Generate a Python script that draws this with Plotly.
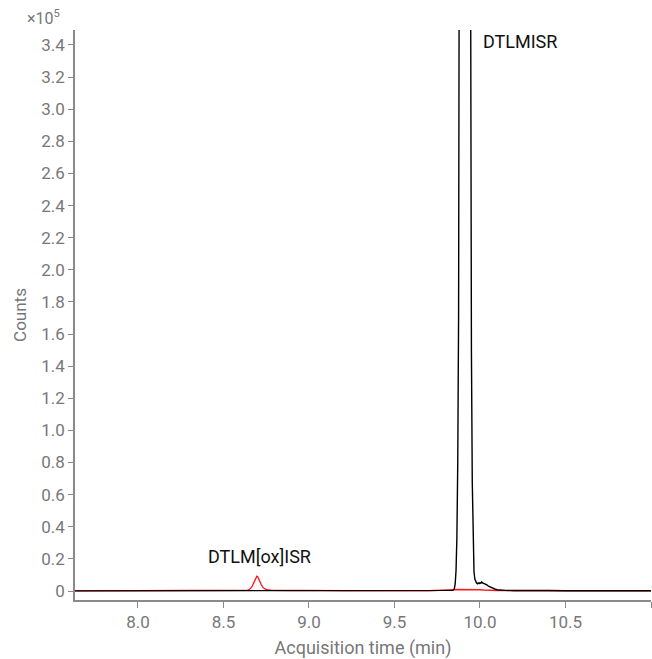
import plotly.graph_objects as go

# Acquisition time (min) and counts (x10^5)
black_time = [7.63, 7.70, 7.80, 7.90, 8.00, 8.10, 8.15, 8.20, 8.30, 8.40, 8.50, 8.60, 8.65, 8.70, 8.75,
              8.80, 8.90, 9.00, 9.10, 9.20, 9.30, 9.40, 9.45, 9.47, 9.49, 9.52, 9.55, 9.60, 9.70, 9.75,
              9.80, 9.82, 9.83, 9.835, 9.84, 9.845, 9.85, 9.855, 9.86, 9.865, 9.87, 9.875, 9.88, 9.885,
              9.89, 9.895, 9.90, 9.905, 9.91, 9.915, 9.92, 9.925, 9.93, 9.935, 9.94, 9.945, 9.95, 9.955,
              9.96, 9.965, 9.97, 9.975, 9.98, 9.985, 9.99, 9.995, 10.00, 10.005, 10.01, 10.015, 10.02,
              10.03, 10.04, 10.05, 10.06, 10.07, 10.08, 10.09, 10.10, 10.12, 10.15, 10.20, 10.25, 10.30,
              10.35, 10.40, 10.50, 10.60, 10.70, 10.80, 10.90, 11.00]
black_counts = [0.001, 0.001, 0.002, 0.001, 0.002, 0.002, 0.003, 0.001, 0.002, 0.001, 0.002, 0.002, 0.001, 0.002, 0.002,
                0.001, 0.002, 0.002, 0.001, 0.002, 0.002, 0.002, 0.003, 0.005, 0.003, 0.003, 0.002, 0.002, 0.002, 0.002,
                0.002, 0.002, 0.002, 0.003, 0.004, 0.006, 0.014, 0.044, 0.128, 0.334, 0.797, 1.72, 3.38, 6.02,
                9.72, 14.2, 18.9, 22.7, 24.8, 24.6, 22.1, 18.0, 13.3, 8.9, 5.41, 2.98, 1.49, 0.676,
                0.278, 0.12, 0.075, 0.06, 0.05, 0.045, 0.05, 0.046, 0.052, 0.048, 0.056, 0.05, 0.048,
                0.044, 0.038, 0.03, 0.024, 0.02, 0.015, 0.011, 0.008, 0.006, 0.004, 0.003, 0.004, 0.003,
                0.004, 0.003, 0.002, 0.003, 0.002, 0.002, 0.002, 0.002]

red_time = [7.63, 7.80, 8.00, 8.20, 8.40, 8.55, 8.60, 8.63, 8.64, 8.65, 8.655, 8.66, 8.665, 8.67, 8.675,
            8.68, 8.685, 8.69, 8.695, 8.70, 8.705, 8.71, 8.715, 8.72, 8.725, 8.73, 8.74, 8.75, 8.76,
            8.78, 8.80, 8.85, 8.90, 8.95, 9.00, 9.05, 9.10, 9.20, 9.30, 9.40, 9.45, 9.48, 9.50, 9.52,
            9.55, 9.60, 9.70, 9.80, 9.84, 9.86, 9.90, 9.94, 9.98, 10.00, 10.02, 10.05, 10.10, 10.20,
            10.40, 10.60, 10.80, 11.00]
red_counts = [0.001, 0.001, 0.001, 0.001, 0.001, 0.002, 0.002, 0.003, 0.005, 0.008, 0.012, 0.018, 0.024, 0.034, 0.045,
              0.058, 0.074, 0.086, 0.092, 0.089, 0.080, 0.066, 0.054, 0.042, 0.032, 0.024, 0.014, 0.009, 0.006,
              0.005, 0.004, 0.004, 0.003, 0.004, 0.003, 0.002, 0.002, 0.002, 0.002, 0.003, 0.004, 0.005, 0.004, 0.005,
              0.003, 0.002, 0.002, 0.003, 0.008, 0.009, 0.010, 0.010, 0.009, 0.008, 0.006, 0.004, 0.003, 0.002,
              0.002, 0.002, 0.002, 0.002]

x_tickvals = [8.0, 8.5, 9.0, 9.5, 10.0, 10.5, 11.0]
x_ticktext = ["8.0", "8.5", "9.0", "9.5", "10.0", "10.5", ""]
y_tickvals = [0, 0.2, 0.4, 0.6, 0.8, 1.0, 1.2, 1.4, 1.6, 1.8, 2.0, 2.2, 2.4, 2.6, 2.8, 3.0, 3.2, 3.4]
y_ticktext = ["0", "0.2", "0.4", "0.6", "0.8", "1.0", "1.2", "1.4", "1.6", "1.8", "2.0",
              "2.2", "2.4", "2.6", "2.8", "3.0", "3.2", "3.4"]

peak_labels = ["DTLMISR", "DTLM[ox]ISR"]
peak_label_pos = [(10.006, 3.419), (8.708, 0.212)]

gray = "#777777"
axis_gray = "#8a8a8a"

fig = go.Figure()
fig.add_trace(go.Scatter(x=red_time, y=red_counts, mode="lines",
                         line=dict(color="#ff1a1a", width=1.4), showlegend=False))
fig.add_trace(go.Scatter(x=black_time, y=black_counts, mode="lines",
                         line=dict(color="#000000", width=1.4), showlegend=False))

fig.add_annotation(x=peak_label_pos[0][0], y=peak_label_pos[0][1], text=peak_labels[0],
                   showarrow=False, xanchor="left", yanchor="middle",
                   font=dict(family="Roboto", size=18, color="#111111"))
fig.add_annotation(x=peak_label_pos[1][0], y=peak_label_pos[1][1], text=peak_labels[1],
                   showarrow=False, xanchor="center", yanchor="middle",
                   font=dict(family="Roboto", size=18, color="#111111"))
fig.add_annotation(xref="paper", yref="paper", x=-0.054, y=1.0, text="×10<sup>5</sup>",
                   showarrow=False, xanchor="center", yanchor="bottom",
                   font=dict(family="Roboto", size=16, color=gray))

fig.update_layout(
    width=652, height=659,
    margin=dict(l=75, r=1, t=30, b=59),
    plot_bgcolor="white", paper_bgcolor="white",
    font=dict(family="Roboto", size=17, color=gray),
)
fig.update_xaxes(range=[7.632, 11.0], tickvals=x_tickvals, ticktext=x_ticktext,
                 showgrid=False, zeroline=False, showline=True, linecolor=axis_gray, linewidth=1.5,
                 ticks="outside", ticklen=6, tickcolor=axis_gray, tickwidth=1.2,
                 tickfont=dict(size=17, color=gray),
                 title=dict(text="Acquisition time (min)", font=dict(size=18, color=gray), standoff=14))
fig.update_yaxes(range=[-0.056, 3.493], tickvals=y_tickvals, ticktext=y_ticktext,
                 showgrid=False, zeroline=False, showline=True, linecolor=axis_gray, linewidth=1.5,
                 ticks="outside", ticklen=5, tickcolor=axis_gray, tickwidth=1.2,
                 tickfont=dict(size=17, color=gray),
                 title=dict(text="Counts", font=dict(size=17, color=gray), standoff=10))

fig.write_html("out.html", post_script="document.body.style.margin='0';",
               config={"displayModeBar": False})
